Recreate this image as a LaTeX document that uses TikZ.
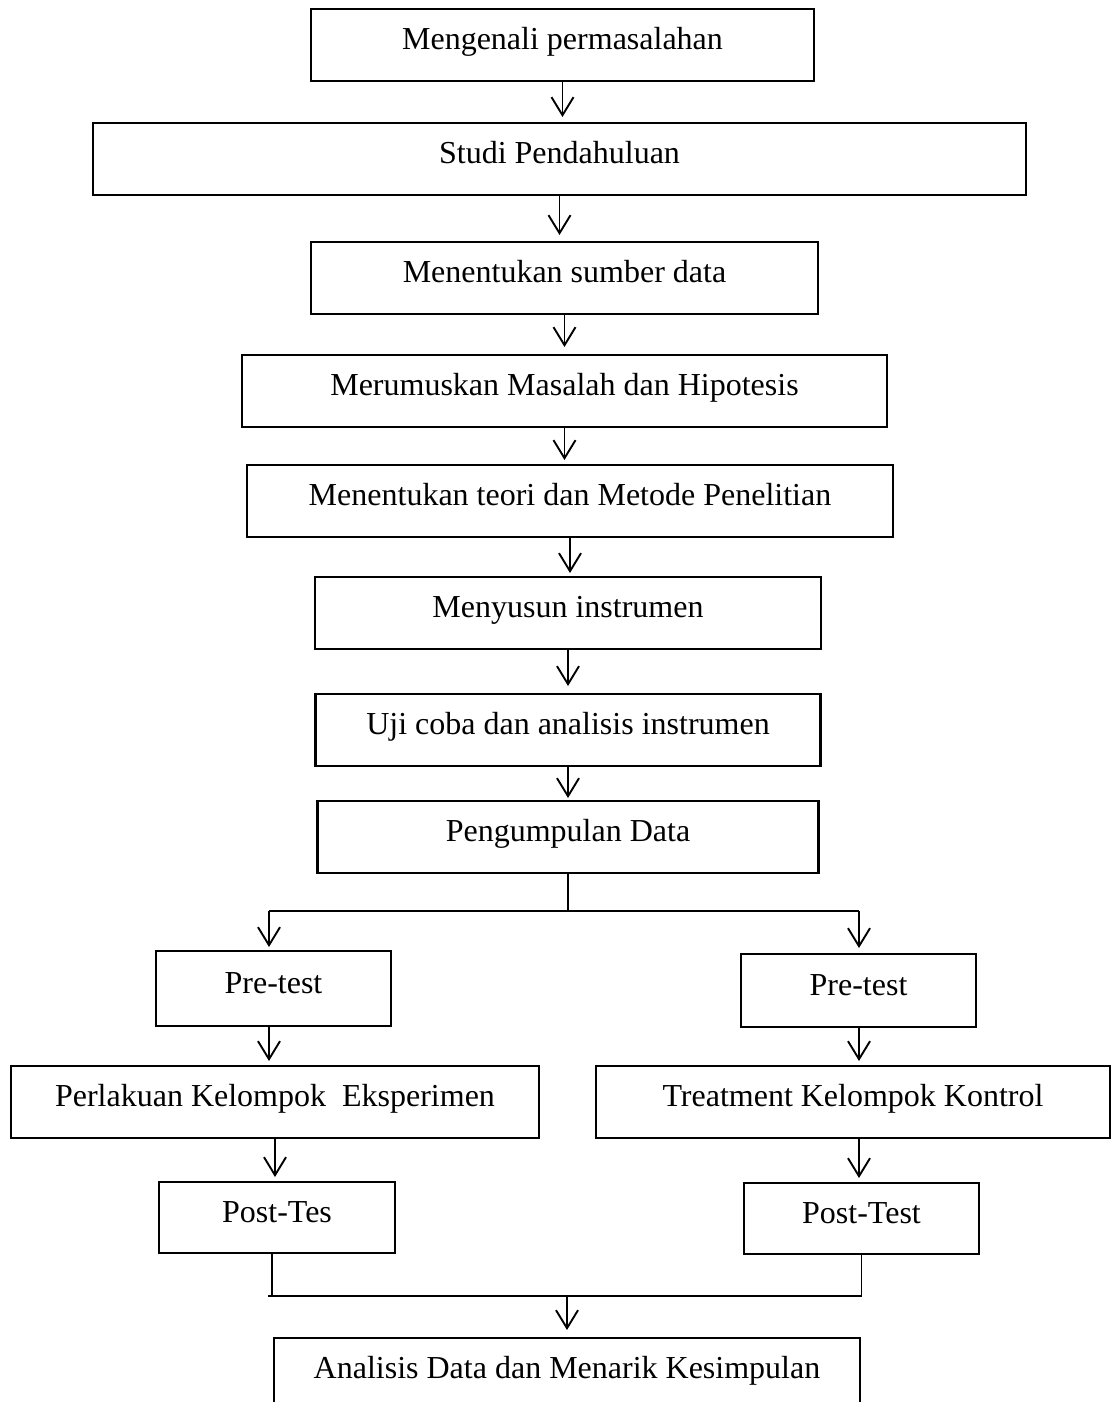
\documentclass[tikz,border=0pt]{standalone}
\usepackage{fontspec}
\setmainfont{Liberation Serif}
\usepackage{tikz}
\usetikzlibrary{arrows.meta, positioning}
\newcommand{\stepfont}{\fontsize{32}{38}\selectfont}

\begin{document}
\begin{tikzpicture}[
    x=1pt, y=-1pt,
    stepbox/.style={draw, line width=2.7pt, inner sep=0pt, outer sep=0pt, minimum height=72pt, text height=22pt, text depth=13pt, font=\stepfont},
    arrow/.style={-{Straight Barb[length=18pt, width=22pt]}, line width=1.9pt},
    link/.style={line width=1.1pt}
]
    \useasboundingbox (0,0) rectangle (1116,1402);

    % alur utama
    \node[stepbox, minimum width=503pt] (problem) at (562.5,45) {Mengenali permasalahan};
    \node[stepbox, minimum width=933pt, below=42pt of problem, xshift=-3pt] (study) {Studi Pendahuluan};
    \node[stepbox, minimum width=507pt, below=47pt of study, xshift=5pt] (source) {Menentukan sumber data};
    \node[stepbox, minimum width=645pt, below=41pt of source] (formulate) {Merumuskan Masalah dan Hipotesis};
    \node[stepbox, minimum width=646pt, below=38pt of formulate, xshift=5.5pt] (theory) {Menentukan teori dan Metode Penelitian};
    \node[stepbox, minimum width=506pt, below=40pt of theory, xshift=-2pt] (instrument) {Menyusun instrumen};
    \node[stepbox, minimum width=505pt, below=45pt of instrument] (trial) {Uji coba dan analisis instrumen};
    \node[stepbox, minimum width=501pt, below=35pt of trial] (data) {Pengumpulan Data};

    \draw[arrow, shorten >=6pt] (problem.south) -- (problem.south |- study.north);
    \draw[arrow, shorten >=7pt] (study.south) -- (study.south |- source.north);
    \draw[arrow, shorten >=8pt] (source.south) -- (source.south |- formulate.north);
    \draw[arrow, shorten >=5pt] (formulate.south) -- (formulate.south |- theory.north);
    \draw[arrow, shorten >=4pt] (theory.south) -- (theory.south |- instrument.north);
    \draw[arrow, shorten >=8pt] (instrument.south) -- (instrument.south |- trial.north);
    \draw[arrow, shorten >=3pt] (trial.south) -- (trial.south |- data.north);

    % dua kelompok
    \node[stepbox, minimum width=235pt, minimum height=75pt] (preL) at (273.5,988.5) {Pre-test};
    \node[stepbox, minimum width=235pt, minimum height=73pt] (preR) at (858.5,990.5) {Pre-test};
    \node[stepbox, minimum width=528pt, below=40pt of preL, xshift=1.5pt] (treatL) {Perlakuan Kelompok\ \ Eksperimen};
    \node[stepbox, minimum width=514pt, below=39pt of preR, xshift=-5.5pt] (treatR) {Treatment Kelompok Kontrol};
    \node[stepbox, minimum width=236pt, minimum height=71pt, below=44pt of treatL, xshift=2pt] (postL) {Post-Tes};
    \node[stepbox, minimum width=235pt, minimum height=71pt, below=45pt of treatR, xshift=8.5pt] (postR) {Post-Test};
    \node[stepbox, minimum width=586pt, anchor=north] (result) at (567,1338) {Analisis Data dan Menarik Kesimpulan};

    \coordinate (fork) at (data.south |- 0,911);
    \coordinate (forkL) at (269,911);
    \coordinate (forkR) at (859,911);
    \draw[link] (data.south) -- (fork);
    \draw[link] (forkL) -- (forkR);
    \draw[arrow, shorten >=4pt] (forkL) -- (forkL |- preL.north);
    \draw[arrow, shorten >=6pt] (forkR) -- (forkR |- preR.north);

    \draw[arrow, shorten >=5pt] (preL.south -| forkL) -- (forkL |- treatL.north);
    \draw[arrow, shorten >=5pt] (preR.south -| forkR) -- (forkR |- treatR.north);
    \draw[arrow, shorten >=5pt] (treatL.south) -- (treatL.south |- postL.north);
    \draw[arrow, shorten >=5pt] (treatR.south -| forkR) -- (forkR |- postR.north);

    % gabung ke kesimpulan
    \coordinate (joinL) at (272,1296);
    \coordinate (joinR) at (postR.south |- 0,1296);
    \coordinate (join) at (result.north |- 0,1296);
    \draw[link] (joinL |- postL.south) -- (joinL);
    \draw[link] (joinR) -- (postR.south);
    \draw[link] (joinL) ++(-4,0) -- (joinR);
    \draw[arrow, shorten >=8pt] (join) -- (result.north);
\end{tikzpicture}
\end{document}
